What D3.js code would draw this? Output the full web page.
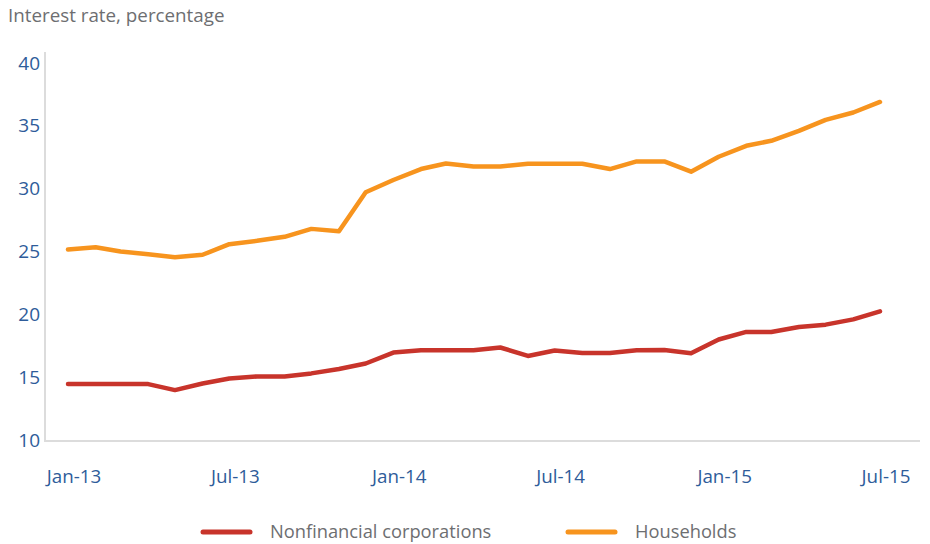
<!DOCTYPE html>
<html lang="en">
<head>
  <meta charset="UTF-8">
  <title>Interest rates</title>
  <script src="https://d3js.org/d3.v7.min.js"></script>
  <style>
    body { margin: 0; background: #fff; }
    text { font-family: "Open Sans", "Noto Sans", sans-serif; }
  </style>
</head>
<body>

<div id="chart"></div>

<script>
  // months Jan-13 .. Jul-15
  const months = d3.timeMonth.range(new Date(2013, 0, 1), new Date(2015, 7, 1));

  const corporations = [14.45, 14.45, 14.45, 14.45, 13.97, 14.5, 14.9, 15.06, 15.06, 15.3, 15.65,
    16.09, 16.96, 17.14, 17.14, 17.14, 17.36, 16.69, 17.12, 16.93, 16.93,
    17.14, 17.16, 16.9, 18.0, 18.6, 18.6, 18.99, 19.18, 19.6, 20.24];

  const households = [25.16, 25.34, 25.0, 24.79, 24.55, 24.74, 25.58, 25.85, 26.17, 26.8, 26.61,
    29.71, 30.69, 31.56, 32.0, 31.77, 31.77, 31.98, 31.98, 31.98, 31.56,
    32.17, 32.17, 31.35, 32.54, 33.41, 33.81, 34.6, 35.48, 36.06, 36.9];

  const tickLabels = ["Jan-13", "Jul-13", "Jan-14", "Jul-14", "Jan-15", "Jul-15"];
  const yTicks = [10, 15, 20, 25, 30, 35, 40];

  const series = [
    { name: "Nonfinancial corporations", values: corporations, color: "#c8342b" },
    { name: "Households", values: households, color: "#f7941e" }
  ];

  const width = 930;
  const height = 544;

  const svg = d3.select("#chart")
    .append("svg")
    .attr("width", width)
    .attr("height", height);

  const x = d3.scaleTime()
    .domain([months[0], months[months.length - 1]])
    .range([68, 880]);

  const y = d3.scaleLinear()
    .domain([10, 40])
    .range([440, 63]);

  // title
  svg.append("text")
    .attr("x", 8)
    .attr("y", 22)
    .attr("fill", "#6d6e71")
    .attr("font-size", 18.8)
    .text("Interest rate, percentage");

  // axis lines
  svg.append("line")
    .attr("x1", 45).attr("x2", 45)
    .attr("y1", 52).attr("y2", 441)
    .attr("stroke", "#dcdcdc").attr("stroke-width", 2);
  svg.append("line")
    .attr("x1", 44).attr("x2", 920)
    .attr("y1", 441).attr("y2", 441)
    .attr("stroke", "#dcdcdc").attr("stroke-width", 2);

  // y tick labels
  svg.append("g")
    .selectAll("text")
    .data(yTicks)
    .enter()
    .append("text")
    .attr("x", 40)
    .attr("y", d => y(d))
    .attr("dy", "0.35em")
    .attr("text-anchor", "end")
    .attr("fill", "#2e5c9a")
    .attr("font-size", 19)
    .text(d => d);

  // x tick labels, every 6 months
  const xTicks = months.filter((d, i) => i % 6 === 0);
  svg.append("g")
    .selectAll("text")
    .data(xTicks)
    .enter()
    .append("text")
    .attr("x", d => x(d) + 6)
    .attr("y", 483)
    .attr("text-anchor", "middle")
    .attr("fill", "#2e5c9a")
    .attr("font-size", 18.8)
    .text((d, i) => tickLabels[i]);

  // lines
  const line = d3.line()
    .x((d, i) => x(months[i]))
    .y(d => y(d));

  svg.selectAll("path.series")
    .data(series)
    .enter()
    .append("path")
    .attr("class", "series")
    .attr("d", d => line(d.values))
    .attr("fill", "none")
    .attr("stroke", d => d.color)
    .attr("stroke-width", 4.5)
    .attr("stroke-linejoin", "round")
    .attr("stroke-linecap", "round");

  // legend
  const legendPos = [203, 568];
  const legend = svg.selectAll("g.legend")
    .data(series)
    .enter()
    .append("g")
    .attr("class", "legend")
    .attr("transform", (d, i) => `translate(${legendPos[i]},532)`);

  legend.append("line")
    .attr("x1", 0).attr("x2", 47)
    .attr("stroke", d => d.color)
    .attr("stroke-width", 5)
    .attr("stroke-linecap", "round");

  legend.append("text")
    .attr("x", 67)
    .attr("dy", "0.35em")
    .attr("fill", "#6d6e71")
    .attr("font-size", 18.3)
    .text(d => d.name);
</script>

</body>
</html>
